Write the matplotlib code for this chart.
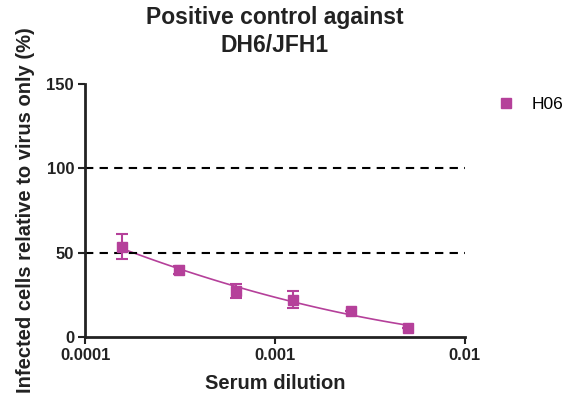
import numpy as np
import matplotlib
matplotlib.use('Agg')
import matplotlib.pyplot as plt
from matplotlib.ticker import FixedLocator, NullLocator
from matplotlib.lines import Line2D

plt.rcParams['font.family'] = ['Liberation Sans', 'DejaVu Sans']

# data
dilution = [1/6400, 1/3200, 1/1600, 1/800, 1/400, 1/200]
infected = [53.5, 39.7, 27.3, 22.2, 15.6, 5.3]
err = [7.5, 2.2, 4.0, 5.0, 0.0, 0.0]
col = '#B5409A'
txt = '#222222'

fig = plt.figure(figsize=(5.79, 4.07), dpi=100)
ax = fig.add_axes([0.147, 0.172, 0.656, 0.622])

# fitted curve (quadratic in log dilution)
lx = np.log10(dilution)
coef = np.polyfit(lx, infected, 2)
xs = np.linspace(lx[0], lx[-1], 100)
ax.plot(10**xs, np.polyval(coef, xs), color=col, lw=1.2)

ax.errorbar(dilution, infected, yerr=err, fmt='s', color=col, ms=7,
            capsize=4, elinewidth=1.5, capthick=1.5, zorder=3)

ax.axhline(50, color='black', ls='--', lw=1.5, dashes=(4, 3))
ax.axhline(100, color='black', ls='--', lw=1.5, dashes=(4, 3))

ax.set_xscale('log')
ax.set_xlim(0.0001, 0.01)
ax.set_ylim(0, 150)
ax.xaxis.set_major_locator(FixedLocator([0.0001, 0.001, 0.01]))
ax.xaxis.set_minor_locator(NullLocator())
ax.set_xticklabels(['0.0001', '0.001', '0.01'])
ax.set_yticks([0, 50, 100, 150])

for s in ['top', 'right']:
    ax.spines[s].set_visible(False)
for s in ['left', 'bottom']:
    ax.spines[s].set_linewidth(2)
    ax.spines[s].set_color(txt)
ax.tick_params(width=1.5, length=5, labelsize=12, direction='out', colors=txt, pad=3)
for lab in ax.get_xticklabels() + ax.get_yticklabels():
    lab.set_fontweight('bold')

ax.set_xlabel('Serum dilution', fontsize=14.5, fontweight='bold', color=txt, labelpad=8)
ax.set_ylabel('Infected cells relative to virus only (%)', fontsize=14.5,
              fontweight='bold', color=txt, labelpad=8)
fig.text(0.474, 0.985, 'Positive control against\nDH6/JFH1', ha='center', va='top',
         fontsize=16.5, fontweight='bold', color=txt, linespacing=1.25)

handle = Line2D([], [], marker='s', color=col, ls='none', ms=7)
ax.legend([handle], ['H06'], loc='upper left', bbox_to_anchor=(1.02, 1.01), frameon=False,
          fontsize=12.5, handletextpad=0.5, numpoints=1)

plt.savefig('out.png', dpi=100)
